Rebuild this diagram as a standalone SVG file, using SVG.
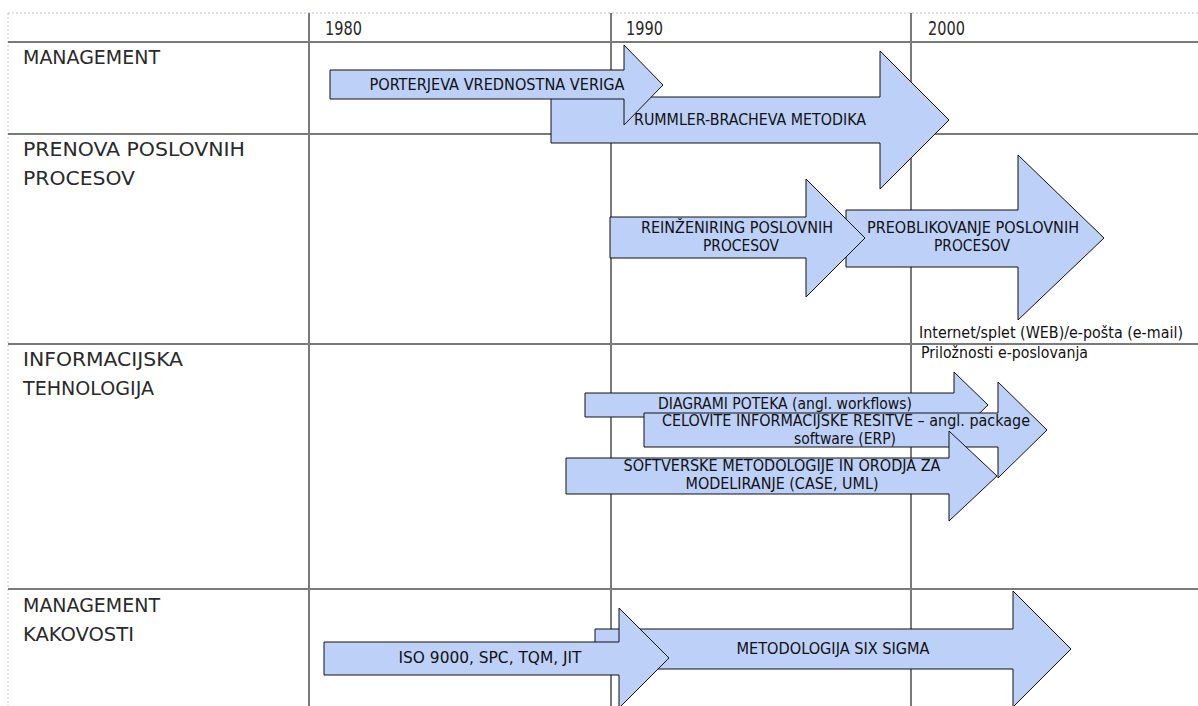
<svg xmlns="http://www.w3.org/2000/svg" width="1198" height="706" viewBox="0 0 1198 706">
  <style>
    .grid { stroke: #7a7a7a; stroke-width: 2; fill: none; }
    .frame { stroke: #b9c5d8; stroke-width: 1; stroke-dasharray: 2 2; fill: none; }
    .head { font-family: "DejaVu Sans", "Liberation Sans", sans-serif; font-stretch: condensed; font-size: 20px; fill: #2a2a2a; }
    .year { font-family: "DejaVu Sans", "Liberation Sans", sans-serif; font-stretch: condensed; font-size: 19px; fill: #2a2a2a; }
    .arrow { fill: #bdd0f7; stroke: #111; stroke-width: 1; stroke-linejoin: miter; }
    .lbl { font-family: "DejaVu Sans", "Liberation Sans", sans-serif; font-stretch: condensed; font-size: 15.5px; fill: #111; text-anchor: middle; }
    .note { font-family: "DejaVu Sans", "Liberation Sans", sans-serif; font-stretch: condensed; font-size: 15px; fill: #111; }
  </style>

  <rect width="1198" height="706" fill="#ffffff"/>

  <!-- table grid -->
  <g id="grid">
    <line class="frame" x1="8" y1="13" x2="1198" y2="13"/>
    <line class="frame" x1="8" y1="13" x2="8" y2="706"/>
    <line class="grid" x1="8" y1="42" x2="1198" y2="42"/>
    <line class="grid" x1="8" y1="134" x2="1198" y2="134"/>
    <line class="grid" x1="8" y1="344" x2="1198" y2="344"/>
    <line class="grid" x1="8" y1="589" x2="1198" y2="589"/>
    <line class="grid" x1="309" y1="13" x2="309" y2="706"/>
    <line class="grid" x1="611" y1="13" x2="611" y2="706"/>
    <line class="grid" x1="911" y1="13" x2="911" y2="706"/>
  </g>

  <!-- column headings -->
  <g id="years">
    <text class="year" x="325" y="35" textLength="37" lengthAdjust="spacingAndGlyphs">1980</text>
    <text class="year" x="626" y="35" textLength="37" lengthAdjust="spacingAndGlyphs">1990</text>
    <text class="year" x="928" y="35" textLength="37" lengthAdjust="spacingAndGlyphs">2000</text>
  </g>

  <!-- row headings -->
  <g id="rows">
    <text class="head" x="23" y="64" textLength="137" lengthAdjust="spacingAndGlyphs">MANAGEMENT</text>
    <text class="head" x="23" y="156" textLength="222" lengthAdjust="spacingAndGlyphs">PRENOVA POSLOVNIH</text>
    <text class="head" x="23" y="185" textLength="112" lengthAdjust="spacingAndGlyphs">PROCESOV</text>
    <text class="head" x="23" y="366" textLength="160" lengthAdjust="spacingAndGlyphs">INFORMACIJSKA</text>
    <text class="head" x="23" y="395" textLength="131" lengthAdjust="spacingAndGlyphs">TEHNOLOGIJA</text>
    <text class="head" x="23" y="612" textLength="137" lengthAdjust="spacingAndGlyphs">MANAGEMENT</text>
    <text class="head" x="23" y="641" textLength="111" lengthAdjust="spacingAndGlyphs">KAKOVOSTI</text>
  </g>

  <!-- block arrows along the timeline -->
  <g id="connectors">
    <g id="rummler">
      <path class="arrow" d="M551,97 H880 V51 L949,120 L880,189 V143 H551 Z"/>
      <text class="lbl" x="750" y="125" textLength="232" lengthAdjust="spacingAndGlyphs">RUMMLER-BRACHEVA METODIKA</text>
    </g>
    <g id="porter">
      <path class="arrow" d="M330,70 H624 V45 L663,85 L624,125 V99 H330 Z"/>
      <text class="lbl" x="497" y="90" textLength="255" lengthAdjust="spacingAndGlyphs">PORTERJEVA VREDNOSTNA VERIGA</text>
    </g>

    <g id="preoblikovanje">
      <path class="arrow" d="M846,210 H1018 V155 L1104,238 L1018,320 V267 H846 Z"/>
      <text class="lbl" x="973" y="233" textLength="212" lengthAdjust="spacingAndGlyphs">PREOBLIKOVANJE POSLOVNIH</text>
      <text class="lbl" x="972" y="251" textLength="76" lengthAdjust="spacingAndGlyphs">PROCESOV</text>
    </g>
    <g id="reinzeniring">
      <path class="arrow" d="M610,217 H806 V179 L865,238 L806,297 V258 H610 Z"/>
      <text class="lbl" x="737" y="233" textLength="192" lengthAdjust="spacingAndGlyphs">REINŽENIRING POSLOVNIH</text>
      <text class="lbl" x="741" y="251" textLength="76" lengthAdjust="spacingAndGlyphs">PROCESOV</text>
    </g>

    <g id="diagrami">
      <path class="arrow" d="M585,393 H954 V372 L988,405 L954,438 V417 H585 Z"/>
      <text class="lbl" x="785" y="409" textLength="254" lengthAdjust="spacingAndGlyphs">DIAGRAMI POTEKA (angl. workflows)</text>
    </g>
    <g id="celovite">
      <path class="arrow" d="M644,413 H998 V382 L1047,430 L998,478 V447 H644 Z"/>
      <text class="lbl" x="846" y="426" textLength="368" lengthAdjust="spacingAndGlyphs">CELOVITE INFORMACIJSKE RESITVE – angl. package</text>
      <text class="lbl" x="845" y="444" textLength="102" lengthAdjust="spacingAndGlyphs">software (ERP)</text>
    </g>
    <g id="softverske">
      <path class="arrow" d="M566,458 H949 V431 L997,476 L949,521 V494 H566 Z"/>
      <text class="lbl" x="782" y="471" textLength="317" lengthAdjust="spacingAndGlyphs">SOFTVERSKE METODOLOGIJE IN ORODJA ZA</text>
      <text class="lbl" x="782" y="489" textLength="193" lengthAdjust="spacingAndGlyphs">MODELIRANJE (CASE, UML)</text>
    </g>

    <g id="sixsigma">
      <path class="arrow" d="M595,629 H1013 V591 L1071,649 L1013,707 V669 H595 Z"/>
      <text class="lbl" x="833" y="654" textLength="193" lengthAdjust="spacingAndGlyphs">METODOLOGIJA SIX SIGMA</text>
    </g>
    <g id="iso">
      <path class="arrow" d="M324,642 H619 V608 L669,658 L619,708 V675 H324 Z"/>
      <text class="lbl" x="490" y="663" textLength="183" lengthAdjust="spacingAndGlyphs">ISO 9000, SPC, TQM, JIT</text>
    </g>
  </g>

  <!-- free notes -->
  <g id="notes">
    <text class="note" x="919" y="338" textLength="264" lengthAdjust="spacingAndGlyphs">Internet/splet (WEB)/e-pošta (e-mail)</text>
    <text class="note" x="921" y="358" textLength="167" lengthAdjust="spacingAndGlyphs">Priložnosti e-poslovanja</text>
  </g>
</svg>
